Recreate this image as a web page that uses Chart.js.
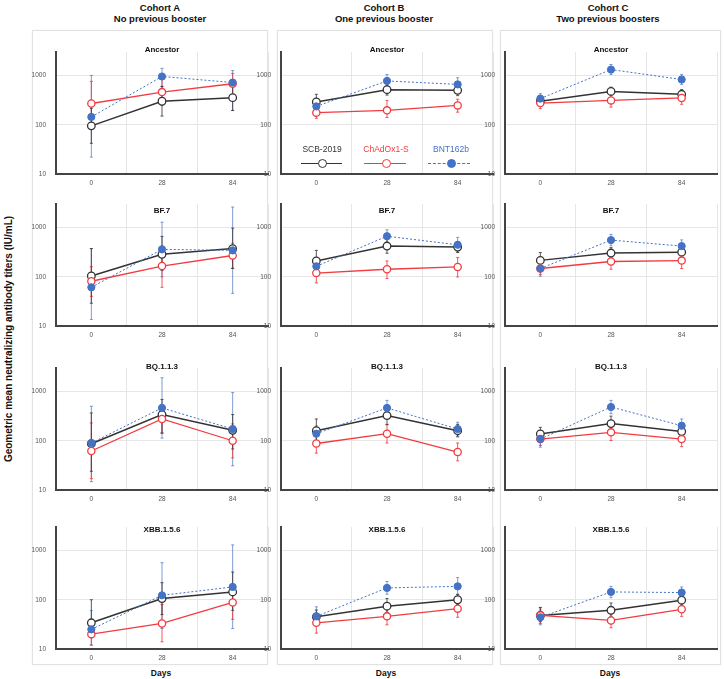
<!DOCTYPE html>
<html>
<head>
<meta charset="utf-8">
<script src="https://cdn.jsdelivr.net/npm/chart.js@4.4.0/dist/chart.umd.min.js"></script>
<style>
  body { margin: 0; width: 724px; height: 679px; background: #fff; position: relative; overflow: hidden;
         font-family: "Liberation Sans", Arial, sans-serif; }
  .card { position: absolute; border: 1px solid #e2e2e2; box-shadow: 0 0 2px rgba(0,0,0,0.06); box-sizing: border-box; }
  .txt { position: absolute; transform: translate(-50%, -50%); white-space: nowrap; text-align: center; }
  .hdr { font-weight: bold; font-size: 9.5px; line-height: 11px; color: #111; }
  .var { font-weight: bold; font-size: 8px; color: #111; }
  .days { font-weight: bold; font-size: 8.5px; color: #111; }
  .ytitle { position: absolute; left: 8px; top: 339px; transform: translate(-50%, -50%) rotate(-90deg);
            white-space: nowrap; font-weight: bold; font-size: 10px; color: #111; }
  canvas { position: absolute; }
  .lg { position: absolute; z-index: 5; }
  .lgtxt { font-size: 8.5px; }
</style>
</head>
<body>
<div class="ytitle">Geometric mean neutralizing antibody titers (IU/mL)</div>
<script>
const days = ['0', '28', '84'];
const cohorts = ['Cohort A', 'Cohort B', 'Cohort C'];
const cohortNotes = ['No previous booster', 'One previous booster', 'Two previous boosters'];
const variants = ['Ancestor', 'BF.7', 'BQ.1.1.3', 'XBB.1.5.6'];
const yTicks = [10, 100, 1000];
const seriesNames = ['SCB-2019', 'ChAdOx1-S', 'BNT162b'];

// [variant][cohort] -> values at day 0, 28, 84
const scbGmt = [
  [[95, 300, 355], [290, 515, 500], [300, 475, 415]],
  [[104, 285, 373], [209, 420, 400], [215, 303, 316]],
  [[87, 340, 163], [160, 325, 160], [137, 223, 154]],
  [[34, 106, 144], [45, 74, 100], [48, 61, 98]]
];
const scbLow = [
  [[42, 150, 195], [210, 400, 390], [240, 390, 330]],
  [[29, 135, 147], [130, 300, 310], [150, 240, 250]],
  [[24, 143, 68], [100, 212, 120], [100, 160, 120]],
  [[17, 50, 61], [33, 55, 80], [36, 46, 78]]
];
const scbHigh = [
  [[215, 600, 650], [415, 640, 640], [370, 580, 516]],
  [[373, 660, 970], [343, 580, 520], [310, 390, 400]],
  [[367, 690, 340], [277, 500, 215], [187, 316, 200]],
  [[100, 222, 365], [62, 106, 128], [69, 86, 122]]
];

const chadGmt = [
  [[270, 460, 680], [176, 196, 247], [276, 312, 350]],
  [[81, 165, 270], [119, 142, 158], [147, 204, 213]],
  [[62, 277, 100], [88, 139, 59], [108, 148, 108]],
  [[20, 33, 88], [34, 46, 66], [48, 38, 64]]
];
const chadLow = [
  [[100, 250, 400], [135, 140, 180], [213, 228, 260]],
  [[40, 61, 150], [75, 92, 99], [110, 142, 147]],
  [[17, 143, 45], [56, 90, 39], [80, 101, 76]],
  [[12, 14, 40], [21, 31, 44], [33, 27, 46]]
];
const chadHigh = [
  [[760, 850, 1100], [230, 312, 330], [340, 420, 470]],
  [[160, 420, 480], [190, 209, 245], [195, 290, 300]],
  [[230, 540, 220], [140, 215, 90], [145, 215, 150]],
  [[35, 80, 190], [52, 68, 98], [70, 54, 90]]
];

const bntGmt = [
  [[144, 955, 720], [236, 775, 660], [340, 1320, 830]],
  [[61, 360, 343], [163, 665, 445], [147, 555, 420]],
  [[90, 464, 173], [139, 464, 173], [108, 485, 202]],
  [[25, 123, 182], [46, 174, 187], [44, 144, 140]]
];
const bntLow = [
  [[22, 600, 195], [170, 580, 480], [270, 1050, 660]],
  [[13.6, 100, 46], [120, 490, 320], [102, 425, 320]],
  [[14.8, 113, 31], [100, 330, 125], [74, 355, 150]],
  [[12, 26, 26], [33, 130, 130], [31, 110, 108]]
];
const bntHigh = [
  [[1000, 1400, 1260], [330, 1050, 900], [427, 1670, 1050]],
  [[373, 1280, 2600], [230, 900, 630], [210, 725, 560]],
  [[500, 1900, 950], [200, 660, 237], [150, 660, 277]],
  [[60, 565, 1300], [72, 235, 282], [62, 187, 182]]
];

const BLACK = '#333333', RED = '#f23b3f', BLUE = '#4472c4';

Chart.defaults.font.family = '"Liberation Sans", Arial, sans-serif';

// panel layout
const plotLeft = [56, 281, 505];
const plotW = 212, plotH = 122;
const plotTop = [52, 204, 368, 527];
const titleY = [49, 210, 366, 529];
const colCenter = [160, 384, 608];
const padTop = 14; // y tick padding + half label height is added above the plot by Chart.js

function addDiv(cls, text, x, y, color) {
  const d = document.createElement('div');
  d.className = cls;
  d.textContent = text;
  d.style.left = x + 'px';
  d.style.top = y + 'px';
  if (color) d.style.color = color;
  document.body.appendChild(d);
  return d;
}

// column cards
[[32, 268], [277, 493], [500, 721]].forEach(([l, r]) => {
  const c = document.createElement('div');
  c.className = 'card';
  c.style.left = l + 'px';
  c.style.width = (r - l) + 'px';
  c.style.top = '30px';
  c.style.height = '635px';
  document.body.appendChild(c);
});

cohorts.forEach((name, c) => {
  addDiv('txt hdr', name, colCenter[c], 7);
  addDiv('txt hdr', cohortNotes[c], colCenter[c], 18);
  addDiv('txt days', 'Days', plotLeft[c] + plotW / 2 - 1, 673);
});

const errorBars = {
  id: 'errorBars',
  beforeDatasetsDraw(chart) {
    const ctx = chart.ctx, y = chart.scales.y;
    chart.data.datasets.forEach((ds, i) => {
      const meta = chart.getDatasetMeta(i);
      ctx.save();
      ctx.strokeStyle = ds.errColor;
      ctx.lineWidth = 1;
      meta.data.forEach((pt, j) => {
        const yl = y.getPixelForValue(ds.low[j]);
        const yh = y.getPixelForValue(ds.high[j]);
        ctx.beginPath();
        ctx.moveTo(pt.x, yl); ctx.lineTo(pt.x, yh);
        ctx.moveTo(pt.x - 1.5, yl); ctx.lineTo(pt.x + 1.5, yl);
        ctx.moveTo(pt.x - 1.5, yh); ctx.lineTo(pt.x + 1.5, yh);
        ctx.stroke();
      });
      ctx.restore();
    });
  }
};

function makePanel(r, c) {
  const cv = document.createElement('canvas');
  cv.width = 44 + plotW + 6;
  cv.height = padTop + plotH + 20;
  cv.style.left = (plotLeft[c] - 44) + 'px';
  cv.style.top = (plotTop[r] - padTop) + 'px';
  document.body.appendChild(cv);

  new Chart(cv, {
    type: 'line',
    data: {
      labels: days,
      datasets: [
        {
          label: seriesNames[2], data: bntGmt[r][c], low: bntLow[r][c], high: bntHigh[r][c],
          errColor: 'rgba(68,114,196,0.7)', borderColor: BLUE, borderWidth: 1, borderDash: [2, 2],
          pointRadius: 3.6, pointBackgroundColor: BLUE, pointBorderColor: BLUE, pointBorderWidth: 1, order: 1
        },
        {
          label: seriesNames[1], data: chadGmt[r][c], low: chadLow[r][c], high: chadHigh[r][c],
          errColor: 'rgba(242,59,63,0.85)', borderColor: RED, borderWidth: 1.3,
          pointRadius: 3.6, pointBackgroundColor: '#fff', pointBorderColor: RED, pointBorderWidth: 1.3, order: 2
        },
        {
          label: seriesNames[0], data: scbGmt[r][c], low: scbLow[r][c], high: scbHigh[r][c],
          errColor: 'rgba(60,60,60,0.85)', borderColor: BLACK, borderWidth: 1.5,
          pointRadius: 3.8, pointBackgroundColor: '#fff', pointBorderColor: BLACK, pointBorderWidth: 1.3, order: 3
        }
      ]
    },
    options: {
      responsive: false,
      animation: false,
      devicePixelRatio: 1,
      layout: { padding: { top: padTop, right: 6, left: 0, bottom: 0 } },
      plugins: { legend: { display: false }, tooltip: { enabled: false } },
      scales: {
        x: {
          offset: true,
          grid: { offset: true, color: '#e6e6e6', drawTicks: false },
          border: { color: '#444', width: 2 },
          ticks: { font: { size: 6.5 }, color: '#555', padding: 5 },
          afterFit: s => { s.height = 20; }
        },
        y: {
          type: 'logarithmic', min: 10, max: 3000,
          grid: { color: '#e6e6e6', drawTicks: false },
          border: { color: '#444', width: 2 },
          ticks: { font: { size: 6.5 }, color: '#555', padding: 10, callback: v => String(v) },
          afterBuildTicks: s => { s.ticks = yTicks.map(v => ({ value: v })); },
          afterFit: s => { s.width = 44; }
        }
      }
    },
    plugins: [errorBars]
  });

  addDiv('txt var', variants[r], plotLeft[c] + plotW / 2, titleY[r]).style.zIndex = 4;
}

variants.forEach((v, r) => cohorts.forEach((k, c) => makePanel(r, c)));

// legend inside Cohort B / Ancestor panel
function legendItem(name, cx, left, right, color, filled, dashed) {
  addDiv('txt lg lgtxt', name, cx, 149, color);
  const line = document.createElement('div');
  line.className = 'lg';
  line.style.left = left + 'px';
  line.style.width = (right - left) + 'px';
  line.style.top = '162.5px';
  line.style.borderTop = (dashed ? '1px dashed ' : '1.5px solid ') + color;
  document.body.appendChild(line);
  const dot = document.createElement('div');
  dot.className = 'lg';
  dot.style.left = (cx - 4.5) + 'px';
  dot.style.top = '158.5px';
  dot.style.width = '9px';
  dot.style.height = '9px';
  dot.style.boxSizing = 'border-box';
  dot.style.borderRadius = '50%';
  dot.style.border = '1.3px solid ' + color;
  dot.style.background = filled ? color : '#fff';
  document.body.appendChild(dot);
}
legendItem(seriesNames[0], 322, 301, 342, BLACK, false, false);
legendItem(seriesNames[1], 386, 364, 406, RED, false, false);
legendItem(seriesNames[2], 451, 428, 470, BLUE, true, true);
</script>
</body>
</html>
